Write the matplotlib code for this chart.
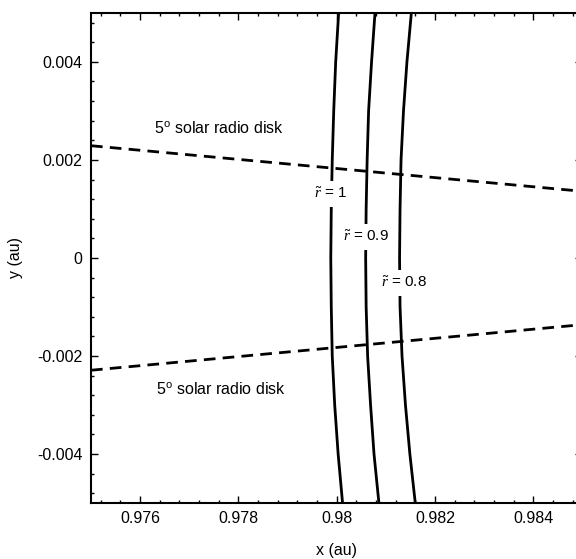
import matplotlib
matplotlib.use('Agg')
from matplotlib import pyplot as plt
from matplotlib.ticker import MultipleLocator

curve_y = [0.005, 0.004, 0.003, 0.002, 0.001, 0.0, -0.001, -0.002, -0.003, -0.004, -0.005]
r10_x = [0.98004, 0.97998, 0.97994, 0.97991, 0.97989, 0.97988, 0.97989, 0.97991, 0.97996, 0.98003, 0.98012]
r09_x = [0.98078, 0.98071, 0.98065, 0.98062, 0.98060, 0.98059, 0.98060, 0.98063, 0.98069, 0.98076, 0.98086]
r08_x = [0.98152, 0.98143, 0.98136, 0.98131, 0.98129, 0.98128, 0.98129, 0.98133, 0.98140, 0.98149, 0.98160]
curve_labels = [r'$\tilde{r}$ = 1', r'$\tilde{r}$ = 0.9', r'$\tilde{r}$ = 0.8']
label_pos = [(0.97988, 0.00131), (0.98060, 0.00043), (0.98136, -0.00051)]

# 5 deg solar radio disk edges
disk_x = [0.975, 0.985]
disk_upper = [0.00229, 0.00136]
disk_lower = [-0.00229, -0.00136]

xticks = [0.976, 0.978, 0.98, 0.982, 0.984]
xtick_labels = ['0.976', '0.978', '0.98', '0.982', '0.984']
yticks = [0.004, 0.002, 0.0, -0.002, -0.004]
ytick_labels = ['0.004', '0.002', '0', '-0.002', '-0.004']

plt.rcParams['font.family'] = ['Liberation Sans', 'DejaVu Sans']
plt.rcParams['mathtext.fontset'] = 'custom'
plt.rcParams['mathtext.rm'] = 'Liberation Sans'
plt.rcParams['mathtext.it'] = 'Liberation Serif:italic'

fig = plt.figure(figsize=(5.76, 5.59), dpi=100)
ax = fig.add_axes([0.158, 0.100, 0.853, 0.877])

for xs in (r10_x, r09_x, r08_x):
    ax.plot(xs, curve_y, color='black', lw=2.0, solid_capstyle='butt')

for ys in (disk_upper, disk_lower):
    ax.plot(disk_x, ys, color='black', lw=2.0, linestyle=(0, (4.2, 2.6)))

for txt, (tx, ty) in zip(curve_labels, label_pos):
    ax.text(tx, ty, txt, fontsize=11, ha='center', va='center',
            bbox=dict(facecolor='white', edgecolor='none', pad=4))

ax.text(0.97761, 0.00265, '5$^{\\rm o}$ solar radio disk', fontsize=11.5, ha='center', va='center')
ax.text(0.97765, -0.00267, '5$^{\\rm o}$ solar radio disk', fontsize=11.5, ha='center', va='center')

ax.set_xlim(0.975, 0.985)
ax.set_ylim(-0.005, 0.005)
ax.set_xticks(xticks)
ax.set_xticklabels(xtick_labels)
ax.set_yticks(yticks)
ax.set_yticklabels(ytick_labels)
ax.xaxis.set_minor_locator(MultipleLocator(0.0004))
ax.yaxis.set_minor_locator(MultipleLocator(0.0004))
ax.tick_params(which='both', direction='in', top=True, right=True, width=1.0)
ax.tick_params(which='major', length=5, labelsize=11.5, pad=6)
ax.tick_params(which='minor', length=2.5)
for s in ax.spines.values():
    s.set_linewidth(1.5)

ax.set_xlabel('x (au)', fontsize=11.5, labelpad=12)
ax.set_ylabel('y (au)', fontsize=11.5, labelpad=10)

fig.savefig('out.png', dpi=100)
